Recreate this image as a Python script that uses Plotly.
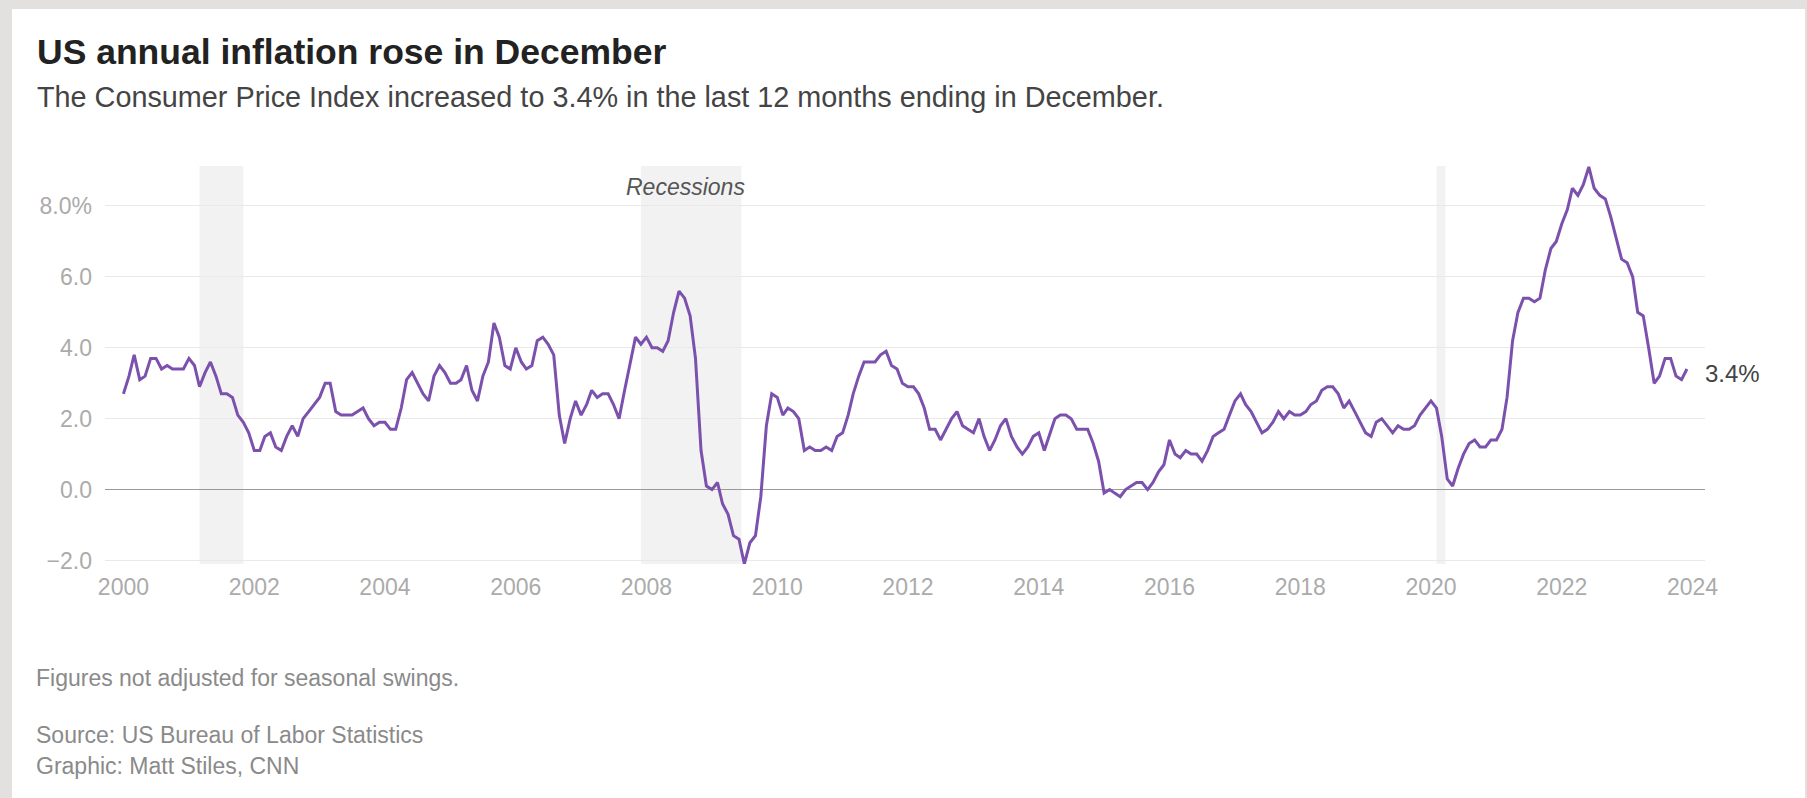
import pandas as pd
import plotly.graph_objects as go

# ---------------- data (annual % change in CPI, monthly) ----------------
cpi_2000 = [2.7, 3.2, 3.8, 3.1, 3.2, 3.7, 3.7, 3.4, 3.5, 3.4, 3.4, 3.4]
cpi_2001 = [3.7, 3.5, 2.9, 3.3, 3.6, 3.2, 2.7, 2.7, 2.6, 2.1, 1.9, 1.6]
cpi_2002 = [1.1, 1.1, 1.5, 1.6, 1.2, 1.1, 1.5, 1.8, 1.5, 2.0, 2.2, 2.4]
cpi_2003 = [2.6, 3.0, 3.0, 2.2, 2.1, 2.1, 2.1, 2.2, 2.3, 2.0, 1.8, 1.9]
cpi_2004 = [1.9, 1.7, 1.7, 2.3, 3.1, 3.3, 3.0, 2.7, 2.5, 3.2, 3.5, 3.3]
cpi_2005 = [3.0, 3.0, 3.1, 3.5, 2.8, 2.5, 3.2, 3.6, 4.7, 4.3, 3.5, 3.4]
cpi_2006 = [4.0, 3.6, 3.4, 3.5, 4.2, 4.3, 4.1, 3.8, 2.1, 1.3, 2.0, 2.5]
cpi_2007 = [2.1, 2.4, 2.8, 2.6, 2.7, 2.7, 2.4, 2.0, 2.8, 3.5, 4.3, 4.1]
cpi_2008 = [4.3, 4.0, 4.0, 3.9, 4.2, 5.0, 5.6, 5.4, 4.9, 3.7, 1.1, 0.1]
cpi_2009 = [0.0, 0.2, -0.4, -0.7, -1.3, -1.4, -2.1, -1.5, -1.3, -0.2, 1.8, 2.7]
cpi_2010 = [2.6, 2.1, 2.3, 2.2, 2.0, 1.1, 1.2, 1.1, 1.1, 1.2, 1.1, 1.5]
cpi_2011 = [1.6, 2.1, 2.7, 3.2, 3.6, 3.6, 3.6, 3.8, 3.9, 3.5, 3.4, 3.0]
cpi_2012 = [2.9, 2.9, 2.7, 2.3, 1.7, 1.7, 1.4, 1.7, 2.0, 2.2, 1.8, 1.7]
cpi_2013 = [1.6, 2.0, 1.5, 1.1, 1.4, 1.8, 2.0, 1.5, 1.2, 1.0, 1.2, 1.5]
cpi_2014 = [1.6, 1.1, 1.5, 2.0, 2.1, 2.1, 2.0, 1.7, 1.7, 1.7, 1.3, 0.8]
cpi_2015 = [-0.1, 0.0, -0.1, -0.2, 0.0, 0.1, 0.2, 0.2, 0.0, 0.2, 0.5, 0.7]
cpi_2016 = [1.4, 1.0, 0.9, 1.1, 1.0, 1.0, 0.8, 1.1, 1.5, 1.6, 1.7, 2.1]
cpi_2017 = [2.5, 2.7, 2.4, 2.2, 1.9, 1.6, 1.7, 1.9, 2.2, 2.0, 2.2, 2.1]
cpi_2018 = [2.1, 2.2, 2.4, 2.5, 2.8, 2.9, 2.9, 2.7, 2.3, 2.5, 2.2, 1.9]
cpi_2019 = [1.6, 1.5, 1.9, 2.0, 1.8, 1.6, 1.8, 1.7, 1.7, 1.8, 2.1, 2.3]
cpi_2020 = [2.5, 2.3, 1.5, 0.3, 0.1, 0.6, 1.0, 1.3, 1.4, 1.2, 1.2, 1.4]
cpi_2021 = [1.4, 1.7, 2.6, 4.2, 5.0, 5.4, 5.4, 5.3, 5.4, 6.2, 6.8, 7.0]
cpi_2022 = [7.5, 7.9, 8.5, 8.3, 8.6, 9.1, 8.5, 8.3, 8.2, 7.7, 7.1, 6.5]
cpi_2023 = [6.4, 6.0, 5.0, 4.9, 4.0, 3.0, 3.2, 3.7, 3.7, 3.2, 3.1, 3.4]

yearly = [cpi_2000, cpi_2001, cpi_2002, cpi_2003, cpi_2004, cpi_2005,
          cpi_2006, cpi_2007, cpi_2008, cpi_2009, cpi_2010, cpi_2011,
          cpi_2012, cpi_2013, cpi_2014, cpi_2015, cpi_2016, cpi_2017,
          cpi_2018, cpi_2019, cpi_2020, cpi_2021, cpi_2022, cpi_2023]
values = [v for yr in yearly for v in yr]
dates = pd.date_range("2000-01-01", periods=len(values), freq="MS")

recession_starts = ["2001-03-01", "2007-12-01", "2020-02-01"]
recession_ends = ["2001-11-01", "2009-06-15", "2020-03-22"]

y_tickvals = [-2, 0, 2, 4, 6, 8]
y_ticktext = ["\u22122.0", "0.0", "2.0", "4.0", "6.0", "8.0%"]
x_tickvals = [f"{y}-01-01" for y in range(2000, 2025, 2)]
x_ticktext = [str(y) for y in range(2000, 2025, 2)]

last_label = "3.4%"
title_text = "US annual inflation rose in December"
subtitle_text = "The Consumer Price Index increased to 3.4% in the last 12 months ending in December."
note_text = "Figures not adjusted for seasonal swings."
source_text = "Source: US Bureau of Labor Statistics"
credit_text = "Graphic: Matt Stiles, CNN"

# ---------------- layout geometry ----------------
W, H = 1807, 798
L, R, T, B = 105, 1705, 166, 563.7
PW, PH = R - L, B - T


def px(xp):
    return (xp - L) / PW


def py(yp):
    return (B - yp) / PH


FONT = "Liberation Sans, Arial, sans-serif"
LINE = "#7b51ad"
TICK = "#ababab"

fig = go.Figure()
fig.add_trace(go.Scatter(
    x=dates, y=values, mode="lines",
    line=dict(color=LINE, width=3),
    hoverinfo="x+y", showlegend=False,
))

shapes = []
for s, e in zip(recession_starts, recession_ends):
    shapes.append(dict(type="rect", xref="x", yref="paper", x0=s, x1=e,
                       y0=0, y1=1, fillcolor="#f2f2f2", line=dict(width=0),
                       layer="below"))
# page frame (light grey border of the screenshot)
frame = "#e2e1df"
shapes += [
    dict(type="rect", xref="paper", yref="paper", x0=px(0), x1=px(12),
         y0=py(H), y1=py(0), fillcolor=frame, line=dict(width=0)),
    dict(type="rect", xref="paper", yref="paper", x0=px(0), x1=px(W),
         y0=py(9), y1=py(0), fillcolor=frame, line=dict(width=0)),
    dict(type="rect", xref="paper", yref="paper", x0=px(1805), x1=px(W),
         y0=py(H), y1=py(0), fillcolor=frame, line=dict(width=0)),
]


def txt(text, xp, yp, size, color, bold=False, italic=False, xanchor="left"):
    return dict(text=f"<b>{text}</b>" if bold else text,
                xref="paper", yref="paper", x=px(xp), y=py(yp),
                xanchor=xanchor, yanchor="middle", showarrow=False,
                font=dict(family=FONT, size=size, color=color,
                          style="italic" if italic else "normal"))


annotations = [
    txt(title_text, 35, 52, 35.5, "#222222", bold=True),
    txt(subtitle_text, 35, 97, 28.8, "#444444"),
    txt("Recessions", 685, 187, 23, "#555555", italic=True, xanchor="center"),
    txt(note_text, 34, 678, 23, "#8a8a8a"),
    txt(source_text, 34, 735, 23, "#8a8a8a"),
    txt(credit_text, 34, 766, 23, "#8a8a8a"),
    dict(text=last_label, x=dates[-1], y=values[-1], xref="x", yref="y",
         xanchor="left", yanchor="middle", xshift=16, yshift=-4,
         showarrow=False, font=dict(family=FONT, size=24, color="#444444")),
]

fig.update_layout(
    width=W, height=H,
    margin=dict(l=L, r=W - R, t=T, b=H - B, pad=0),
    paper_bgcolor="white", plot_bgcolor="white",
    shapes=shapes, annotations=annotations,
    font=dict(family=FONT),
    xaxis=dict(
        type="date",
        range=["1999-09-20", "2024-03-11"],
        tickvals=x_tickvals, ticktext=x_ticktext,
        showgrid=False, zeroline=False, showline=False,
        ticks="", ticklabelstandoff=7,
        tickfont=dict(family=FONT, size=23, color=TICK),
        fixedrange=True,
    ),
    yaxis=dict(
        range=[-2.1, 9.128],
        tickvals=y_tickvals, ticktext=y_ticktext,
        showgrid=True, gridcolor="#e9e9e9", gridwidth=1,
        zeroline=True, zerolinecolor="#9a9a9a", zerolinewidth=1,
        showline=False, ticks="", ticklabelstandoff=12,
        tickfont=dict(family=FONT, size=23, color=TICK),
        fixedrange=True,
    ),
)

fig.write_html(
    "out.html",
    config={"displayModeBar": False},
    post_script="document.body.style.margin='0';document.body.style.overflow='hidden';",
)
